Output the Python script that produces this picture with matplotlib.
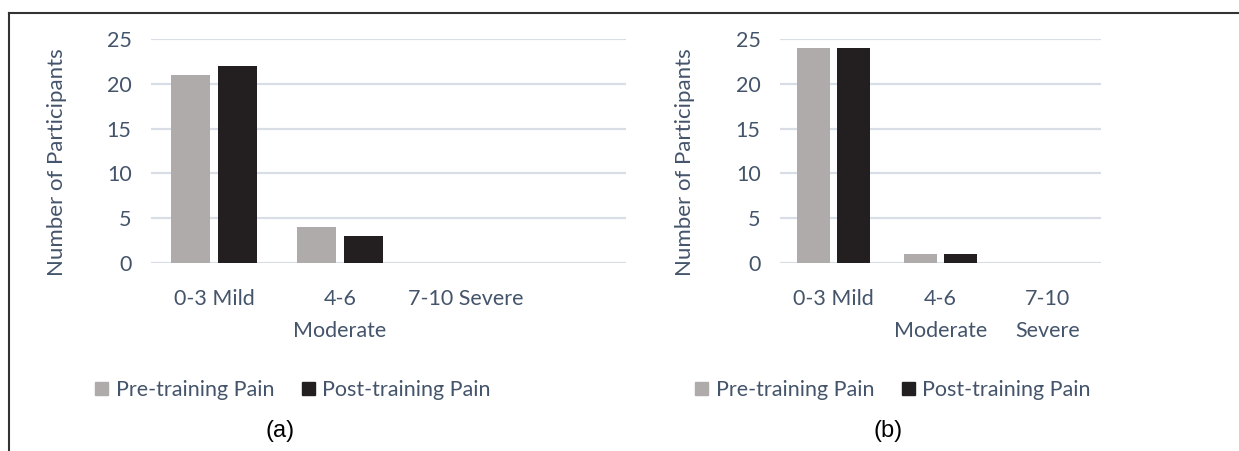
import matplotlib
matplotlib.use('Agg')
import matplotlib.pyplot as plt
from matplotlib.patches import Patch
from matplotlib.lines import Line2D

# --- Data ---
CATEGORIES_A = ['0-3 Mild', '4-6\nModerate', '7-10 Severe']
CATEGORIES_B = ['0-3 Mild', '4-6\nModerate', '7-10\nSevere']
PRE_A = [21, 4, 0]
POST_A = [22, 3, 0]
PRE_B = [24, 1, 0]
POST_B = [24, 1, 0]
Y_TICKS = [0, 5, 10, 15, 20, 25]
SERIES_NAMES = ['Pre-training Pain', 'Post-training Pain']

# --- Style ---
PRE_COLOR = '#AFABAB'
POST_COLOR = '#231F20'
TEXT_COLOR = '#44546A'
GRID_COLOR = '#D9DEE6'
FONT = ['Lato', 'DejaVu Sans']
FS = 15.5
W, H = 1239, 451

plt.rcParams['font.family'] = FONT


def px_rect(left, right, top, bottom):
    """Convert pixel box to figure fraction rect."""
    return [left / W, (H - bottom) / H, (right - left) / W, (bottom - top) / H]


def draw_panel(fig, rect, categories, pre, post, xmax, ylabel_x, legend_x, letter_x, letter):
    ax = fig.add_axes(rect)
    x = list(range(len(categories)))
    bw = 0.31
    off = 0.19
    ax.bar([i - off for i in x], pre, width=bw, color=PRE_COLOR, zorder=3)
    ax.bar([i + off for i in x], post, width=bw, color=POST_COLOR, zorder=3)
    for y in Y_TICKS:
        ax.axhline(y, color=GRID_COLOR, lw=1.6, zorder=1)
    ax.set_xlim(-0.5, xmax)
    ax.set_ylim(0, 25)
    ax.set_yticks(Y_TICKS)
    ax.set_xticks(x)
    ax.set_xticklabels(categories, linespacing=1.75)
    ax.tick_params(axis='both', length=0, labelsize=FS, colors=TEXT_COLOR)
    ax.tick_params(axis='y', pad=14)
    ax.tick_params(axis='x', pad=19)
    for s in ax.spines.values():
        s.set_visible(False)
    ax.set_ylabel('Number of Participants', fontsize=FS + 0.5, color=TEXT_COLOR)
    ax.yaxis.set_label_coords(ylabel_x, 0.449)

    handles = [Patch(color=PRE_COLOR), Patch(color=POST_COLOR)]
    fig.legend(handles, SERIES_NAMES, loc='center',
               bbox_to_anchor=(legend_x / W, 1 - 390 / H), ncol=2, frameon=False,
               fontsize=FS, labelcolor=TEXT_COLOR, handlelength=0.6, handleheight=0.6,
               handletextpad=0.35, columnspacing=1.3)
    fig.text(letter_x / W, 1 - 431 / H, letter, ha='center', va='center',
             fontsize=17, family='Liberation Sans', color='black')
    return ax


fig = plt.figure(figsize=(W / 100, H / 100), dpi=100)

draw_panel(fig, px_rect(151, 626, 39, 263), CATEGORIES_A, PRE_A, POST_A, 3.27,
           (67 - 151) / 475, 293, 280, '(a)')
draw_panel(fig, px_rect(780, 1101, 39, 263), CATEGORIES_B, PRE_B, POST_B, 2.5,
           (695 - 780) / 321, 893, 888, '(b)')

# outer frame lines (left and top)
fig.add_artist(Line2D([9 / W, 9 / W], [0, 1 - 13 / H], color='#333333', lw=1.5))
fig.add_artist(Line2D([9 / W, 1], [1 - 13 / H, 1 - 13 / H], color='#333333', lw=1.5))

fig.savefig('out.png', dpi=100)
